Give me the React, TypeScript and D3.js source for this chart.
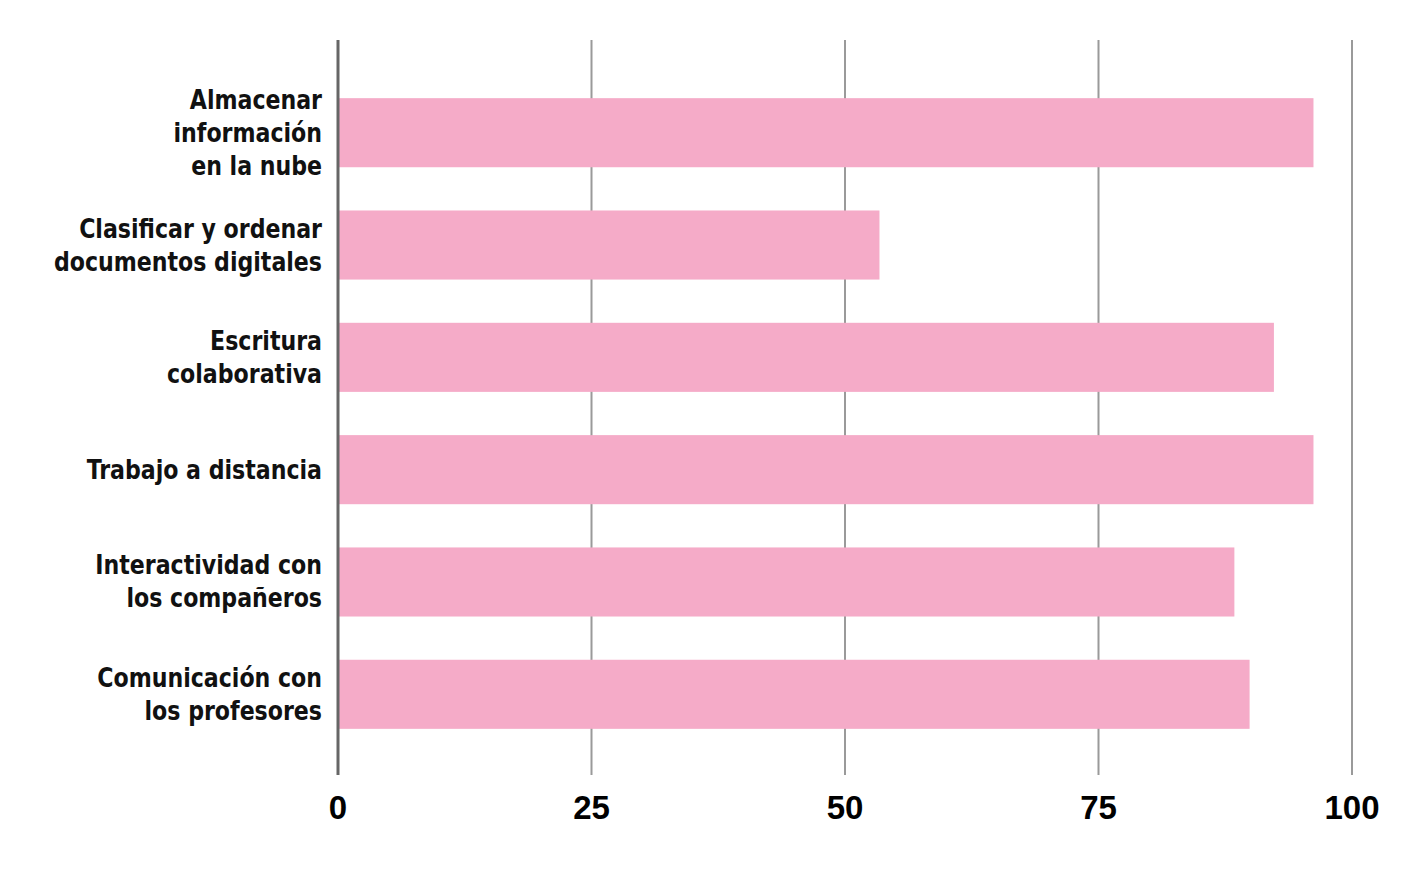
import React from "react";
import * as d3 from "d3";

// data
const categories = [
  ["Almacenar", "información", "en la nube"],
  ["Clasificar y ordenar", "documentos digitales"],
  ["Escritura", "colaborativa"],
  ["Trabajo a distancia"],
  ["Interactividad con", "los compañeros"],
  ["Comunicación con", "los profesores"],
];
const values = [96.2, 53.4, 92.3, 96.2, 88.4, 89.9];
const ticks = [0, 25, 50, 75, 100];

const width = 1419;
const height = 872;
const labelFont = "'DejaVu Sans Condensed', 'Liberation Sans', sans-serif";

export default function App() {
  const keys = categories.map((c) => c.join(" "));

  const x = d3.scaleLinear().domain([0, 100]).range([338, 1352]);
  const y = d3
    .scaleBand<string>()
    .domain(keys)
    .range([42, 785])
    .paddingInner(0.385)
    .paddingOuter(0.5);

  const lineH = 33;

  return (
    <svg
      width={width}
      height={height}
      style={{ position: "absolute", left: 0, top: 0, background: "#fff" }}
    >
      {/* grid */}
      {ticks.slice(1).map((t) => (
        <line key={t} x1={x(t)} x2={x(t)} y1={40} y2={775} stroke="#9a9a9a" strokeWidth={2} />
      ))}

      {/* bars */}
      {values.map((v, i) => (
        <rect
          key={keys[i]}
          x={x(0)}
          y={y(keys[i])}
          width={x(v) - x(0)}
          height={y.bandwidth()}
          fill="#f5abc8"
        />
      ))}

      {/* axis line */}
      <line x1={x(0)} x2={x(0)} y1={40} y2={775} stroke="#666" strokeWidth={3} />

      {/* category labels, squeezed to a condensed look */}
      <g transform="translate(322,0) scale(0.91,1)">
        {categories.map((lines, i) => {
          const cy = (y(keys[i]) ?? 0) + y.bandwidth() / 2;
          const first = cy - ((lines.length - 1) / 2) * lineH + 9;
          return (
            <text
              key={keys[i]}
              textAnchor="end"
              fontFamily={labelFont}
              fontWeight="bold"
              fontSize={27}
              fill="#111"
            >
              {lines.map((l, j) => (
                <tspan key={j} x={0} y={first + j * lineH}>
                  {l}
                </tspan>
              ))}
            </text>
          );
        })}
      </g>

      {/* tick labels */}
      {ticks.map((t) => (
        <text
          key={t}
          x={x(t)}
          y={819}
          textAnchor="middle"
          fontFamily="'Liberation Sans', Arial, sans-serif"
          fontWeight="bold"
          fontSize={33}
          fill="#000"
        >
          {t}
        </text>
      ))}
    </svg>
  );
}
